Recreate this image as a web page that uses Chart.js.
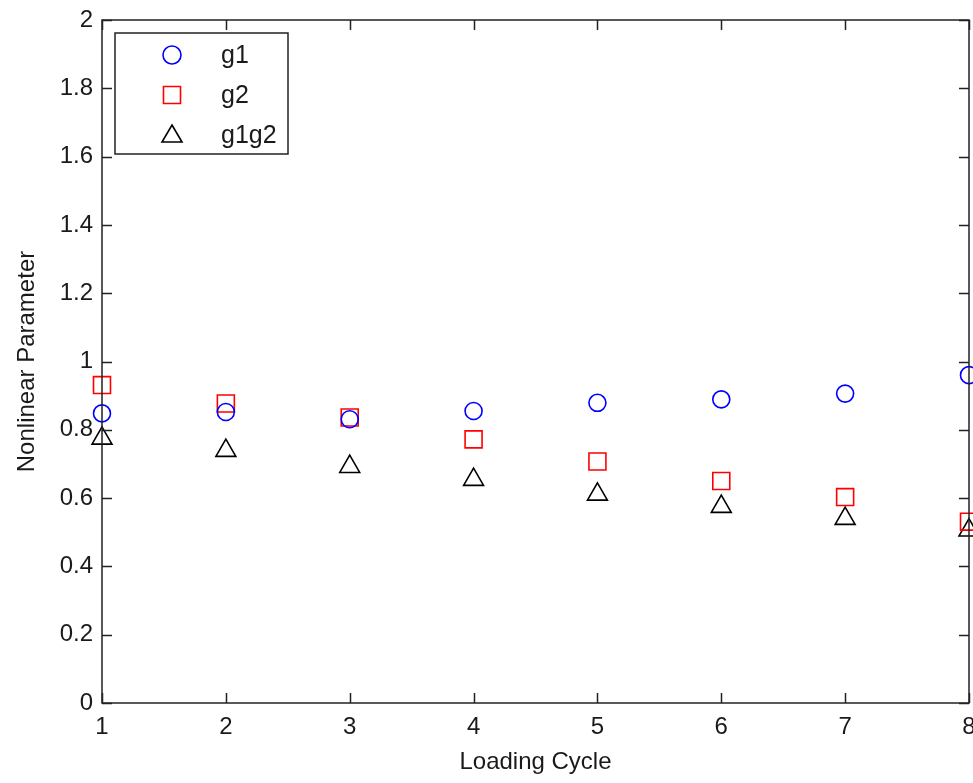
<!DOCTYPE html>
<html>
<head>
<meta charset="utf-8">
<script src="https://cdn.jsdelivr.net/npm/chart.js@4.4.0/dist/chart.umd.min.js"></script>
<style>
  html, body { margin: 0; padding: 0; background: #fff; }
  #wrap { width: 973px; height: 783px; }
</style>
</head>
<body>
<div id="wrap"><canvas id="plot" width="973" height="783"></canvas></div>
<script>
// loading cycles and the three nonlinear parameters
const cycles = [1, 2, 3, 4, 5, 6, 7, 8];
const g1 = [0.848, 0.852, 0.831, 0.855, 0.879, 0.889, 0.906, 0.960];
const g2 = [0.931, 0.877, 0.836, 0.772, 0.707, 0.650, 0.603, 0.531];
const g1g2 = [0.775, 0.739, 0.692, 0.654, 0.611, 0.575, 0.540, 0.506];
const yTicks = [0, 0.2, 0.4, 0.6, 0.8, 1, 1.2, 1.4, 1.6, 1.8, 2];

const FONT = "'Liberation Sans', Arial, sans-serif";
const TXT = '#1a1a1a';

function pts(vals) {
    return cycles.map((c, i) => ({x: c, y: vals[i]}));
}

// axes box with inward ticks on all four sides
const boxAxes = {
    id: 'boxAxes',
    afterDatasetsDraw(chart) {
        const {ctx, chartArea: a, scales} = chart;
        ctx.save();
        ctx.strokeStyle = '#222';
        ctx.lineWidth = 1.5;
        ctx.strokeRect(a.left, a.top, a.right - a.left, a.bottom - a.top);
        ctx.beginPath();
        cycles.forEach(c => {
            const px = Math.round(scales.x.getPixelForValue(c)) + 0.5;
            ctx.moveTo(px, a.bottom); ctx.lineTo(px, a.bottom - 10);
            ctx.moveTo(px, a.top); ctx.lineTo(px, a.top + 10);
        });
        yTicks.forEach(v => {
            const py = Math.round(scales.y.getPixelForValue(v)) + 0.5;
            ctx.moveTo(a.left, py); ctx.lineTo(a.left + 10, py);
            ctx.moveTo(a.right, py); ctx.lineTo(a.right - 10, py);
        });
        ctx.stroke();
        ctx.restore();
    },
    afterDraw(chart) {
        // legend box in the upper left corner
        const {ctx, chartArea: a} = chart;
        const x0 = a.left + 13, y0 = a.top + 13, w = 173, h = 121;
        ctx.save();
        ctx.fillStyle = '#fff';
        ctx.fillRect(x0, y0, w, h);
        ctx.strokeStyle = '#222';
        ctx.lineWidth = 1.5;
        ctx.strokeRect(x0, y0, w, h);
        ctx.font = '25px ' + FONT;
        ctx.textBaseline = 'middle';
        chart.data.datasets.forEach((ds, i) => {
            const cy = y0 + 22 + i * 40;
            const cx = x0 + 57;
            ctx.strokeStyle = ds.borderColor;
            ctx.lineWidth = ds.borderWidth;
            ctx.beginPath();
            if (ds.pointStyle === 'circle') {
                ctx.arc(cx, cy, 9, 0, Math.PI * 2);
            } else if (ds.pointStyle === 'rect') {
                ctx.rect(cx - 8.5, cy - 8.5, 17, 17);
            } else {
                ctx.moveTo(cx, cy - 10);
                ctx.lineTo(cx + 10, cy + 7);
                ctx.lineTo(cx - 10, cy + 7);
                ctx.closePath();
            }
            ctx.stroke();
            ctx.fillStyle = TXT;
            ctx.fillText(ds.label, x0 + 106, cy + 1);
        });
        ctx.restore();
    }
};

new Chart(document.getElementById('plot'), {
    type: 'scatter',
    data: {
        datasets: [
            {label: 'g1', data: pts(g1), pointStyle: 'circle', pointRadius: 8.5,
             borderColor: '#0000ff', backgroundColor: 'rgba(0,0,0,0)', borderWidth: 1.6, clip: false},
            {label: 'g2', data: pts(g2), pointStyle: 'rect', pointRadius: 12,
             borderColor: '#ff0000', backgroundColor: 'rgba(0,0,0,0)', borderWidth: 1.6, clip: false},
            {label: 'g1g2', data: pts(g1g2), pointStyle: 'triangle', pointRadius: 11.5,
             borderColor: '#000000', backgroundColor: 'rgba(0,0,0,0)', borderWidth: 1.6, clip: false}
        ]
    },
    options: {
        responsive: false,
        animation: false,
        layout: {autoPadding: false, padding: {top: 20, right: 4, left: 0, bottom: 0}},
        plugins: {legend: {display: false}, tooltip: {enabled: false}},
        elements: {point: {hoverRadius: 0}},
        scales: {
            x: {
                type: 'linear', min: 1, max: 8,
                grid: {display: false, drawTicks: false},
                border: {display: false},
                ticks: {stepSize: 1, padding: 10, color: TXT, font: {family: FONT, size: 24}},
                title: {display: true, text: 'Loading Cycle', color: TXT,
                        font: {family: FONT, size: 24}, padding: {top: 0, bottom: 6}},
                afterFit(s) { s.height = 80; s.paddingLeft = 0; s.paddingRight = 0; }
            },
            y: {
                min: 0, max: 2,
                grid: {display: false, drawTicks: false},
                border: {display: false},
                afterBuildTicks(s) { s.ticks = yTicks.map(v => ({value: v})); },
                ticks: {padding: 9, color: TXT, font: {family: FONT, size: 24},
                        callback: v => String(Math.round(v * 10) / 10)},
                title: {display: true, text: 'Nonlinear Parameter', color: TXT,
                        font: {family: FONT, size: 24}, padding: {top: 13, bottom: 0}},
                afterFit(s) { s.width = 102; s.paddingTop = 0; s.paddingBottom = 0; }
            }
        }
    },
    plugins: [boxAxes]
});
</script>
</body>
</html>
